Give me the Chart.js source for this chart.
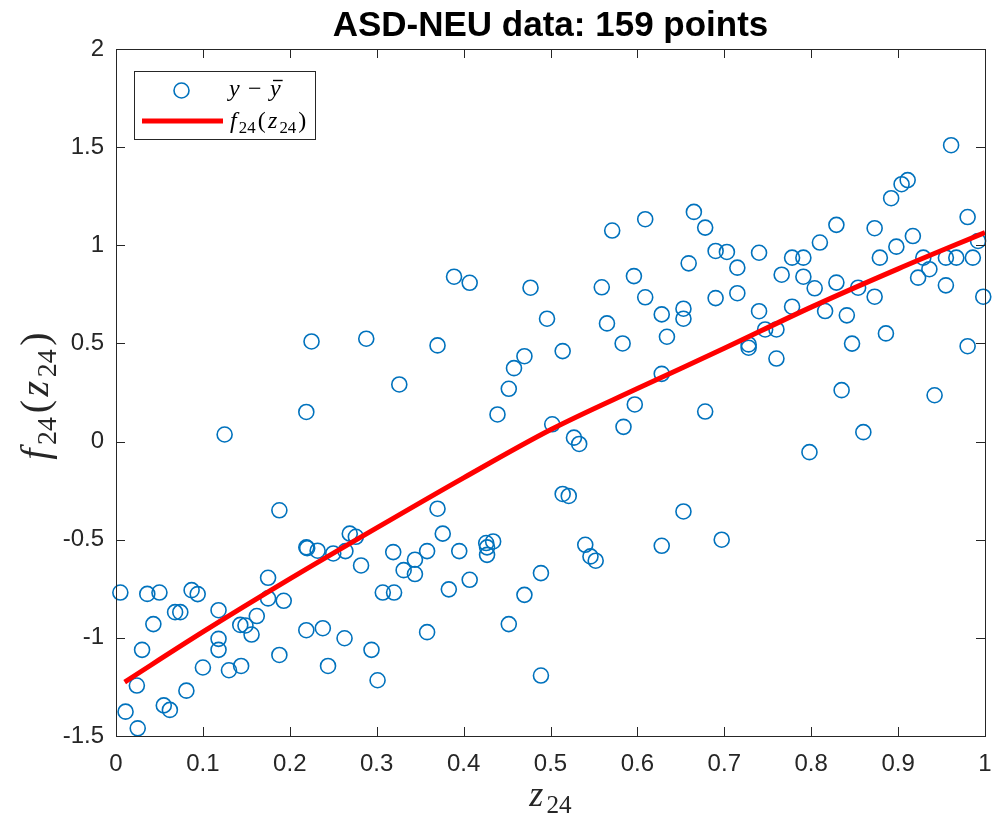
<!DOCTYPE html>
<html>
<head>
<meta charset="utf-8">
<title>ASD-NEU data</title>
<script src="https://cdn.jsdelivr.net/npm/chart.js@4.4.1/dist/chart.umd.min.js"></script>
<style>
  body { margin: 0; background: #fff; }
  #wrap { width: 1000px; height: 820px; }
</style>
</head>
<body>
<div id="wrap"><canvas id="c" width="1000" height="820"></canvas></div>
<script>
// ===== Data =====
const zVals = [
  0.326, 0.219, 0.125, 0.188, 0.219, 0.220, 0.232, 0.250, 0.264, 0.269,
  0.276, 0.282, 0.319, 0.331, 0.307, 0.320, 0.005, 0.036, 0.050, 0.087,
  0.094, 0.068, 0.074, 0.118, 0.043, 0.030, 0.118, 0.118, 0.143, 0.149,
  0.156, 0.162, 0.175, 0.175, 0.193, 0.188, 0.100, 0.130, 0.144, 0.081,
  0.024, 0.011, 0.055, 0.062, 0.025, 0.219, 0.238, 0.263, 0.244, 0.294,
  0.301, 0.225, 0.288,
  0.452, 0.439, 0.502, 0.527, 0.533, 0.584, 0.597, 0.514, 0.521, 0.370,
  0.376, 0.344, 0.344, 0.358, 0.383, 0.358, 0.395, 0.407, 0.426, 0.427,
  0.427, 0.434, 0.452, 0.470, 0.489, 0.489, 0.540, 0.546, 0.552, 0.628,
  0.653,
  0.678, 0.697, 0.798, 0.835, 0.860, 0.942,
  0.370, 0.389, 0.407, 0.458, 0.470, 0.477, 0.496, 0.514, 0.559, 0.565,
  0.571, 0.583, 0.596, 0.609, 0.609, 0.628, 0.634, 0.628, 0.653, 0.653,
  0.659, 0.665,
  0.678, 0.690, 0.703, 0.715, 0.740, 0.690, 0.715, 0.740, 0.728, 0.728,
  0.747, 0.760, 0.760, 0.766, 0.778, 0.778, 0.791, 0.791, 0.804, 0.810,
  0.816, 0.829, 0.829, 0.841, 0.847, 0.854, 0.873, 0.873, 0.879, 0.886,
  0.892, 0.898, 0.904, 0.911, 0.917, 0.923, 0.929, 0.936, 0.955, 0.955,
  0.961, 0.967, 0.980, 0.986, 0.992, 0.980, 0.998
];
const yVals = [
  0.291, 0.151, 0.036, -0.350, -0.539, -0.543, -0.556, -0.570, -0.558, -0.469,
  -0.485, -0.631, -0.563, -0.655, -0.769, -0.769, -0.769, -0.776, -0.769, -0.757,
  -0.777, -0.869, -0.869, -0.859, -0.930, -1.061, -1.005, -1.061, -0.934, -0.937,
  -0.983, -0.889, -0.694, -0.799, -0.811, -1.087, -1.151, -1.165, -1.143, -1.269,
  -1.243, -1.376, -1.344, -1.367, -1.461, -0.961, -0.951, -1.002, -1.143, -1.061,
  -1.216, 0.510, 0.524,
  0.269, 0.138, 0.088, 0.020, -0.012, 0.075, 0.189, -0.267, -0.277, -0.342,
  -0.469, -0.602, -0.675, -0.558, -0.753, -0.971, -0.558, -0.704, -0.517, -0.539,
  -0.577, -0.509, -0.930, -0.781, -0.670, -1.192, -0.526, -0.585, -0.607, -0.531,
  -0.356,
  0.153, -0.500, -0.054, 0.262, 0.048, 0.236,
  0.490, 0.840, 0.809, 0.374, 0.435, 0.784, 0.626, 0.461, 0.786, 0.602,
  1.075, 0.500, 0.843, 1.133, 0.735, 0.648, 0.534, 0.345, 0.677, 0.626,
  0.908, 1.170,
  1.090, 0.971, 0.966, 0.886, 0.962, 0.731, 0.756, 0.664, 0.495, 0.478,
  0.571, 0.571, 0.423, 0.850, 0.687, 0.937, 0.937, 0.840, 0.781, 1.014,
  0.665, 1.104, 0.810, 0.643, 0.499, 0.784, 1.087, 0.738, 0.937, 0.551,
  1.240, 0.993, 1.311, 1.332, 1.047, 0.835, 0.937, 0.878, 0.937, 0.796,
  1.510, 0.937, 1.144, 0.937, 1.022, 0.486, 0.738
];

// fitted curve f24(z24)
const fitZ = [0.01, 0.1, 0.2, 0.3, 0.4, 0.5, 0.6, 0.7, 0.8, 0.9, 1.0];
const fitF = [-1.225, -0.97, -0.70, -0.44, -0.185, 0.06, 0.27, 0.475, 0.685, 0.88, 1.065];

const xTicks = [0, 0.1, 0.2, 0.3, 0.4, 0.5, 0.6, 0.7, 0.8, 0.9, 1];
const yTicks = [-1.5, -1, -0.5, 0, 0.5, 1, 1.5, 2];

// ===== Styles =====
const BLUE = "#0072BD";
const RED = "#FF0000";
const AXIS = "#262626";
const SANS = '"Liberation Sans", Arial, Helvetica, sans-serif';
const SERIF = '"Liberation Serif", "Times New Roman", serif';

// ===== Math text helper (italic letters, roman subscripts) =====
function partFont(s, size) {
  const fs = s === "s" ? size * 0.7 : size;
  return (s === "i" ? "italic " : "") + fs + "px " + SERIF;
}

function mathWidth(ctx, parts, size) {
  let w = 0;
  parts.forEach(([t, s]) => {
    ctx.font = partFont(s, size);
    w += ctx.measureText(t).width + size * 0.09;
  });
  return w - size * 0.09;
}

function drawMath(ctx, parts, x, y, size) {
  let cx = x;
  parts.forEach(([t, s]) => {
    ctx.font = partFont(s, size);
    const dy = s === "s" ? size * 0.2 : 0;
    ctx.fillText(t, cx, y + dy);
    cx += ctx.measureText(t).width + size * 0.09;
  });
}

const fLabel = [["f", "i"], ["24", "s"], ["(", "r"], ["z", "i"], ["24", "s"], [")", "r"]];
const zLabel = [["z", "i"], ["24", "s"]];

// ===== Frame, titles, legend =====
const framePlugin = {
  id: "frame",
  afterDraw(chart) {
    const ctx = chart.ctx;
    const a = chart.chartArea;
    const xs = chart.scales.x;
    const ys = chart.scales.y;

    ctx.save();
    // box + inward ticks on all four sides
    ctx.strokeStyle = AXIS;
    ctx.lineWidth = 1;
    ctx.strokeRect(a.left + 0.5, a.top + 0.5, a.right - a.left, a.bottom - a.top);
    ctx.beginPath();
    xTicks.forEach(v => {
      const px = Math.round(xs.getPixelForValue(v)) + 0.5;
      ctx.moveTo(px, a.bottom); ctx.lineTo(px, a.bottom - 9);
      ctx.moveTo(px, a.top); ctx.lineTo(px, a.top + 9);
    });
    yTicks.forEach(v => {
      const py = Math.round(ys.getPixelForValue(v)) + 0.5;
      ctx.moveTo(a.left, py); ctx.lineTo(a.left + 9, py);
      ctx.moveTo(a.right, py); ctx.lineTo(a.right - 9, py);
    });
    ctx.stroke();

    // title
    ctx.fillStyle = "#000";
    ctx.font = "bold 35px " + SANS;
    ctx.textAlign = "center";
    ctx.textBaseline = "alphabetic";
    ctx.fillText("ASD-NEU data: 159 points", (a.left + a.right) / 2, 36);

    // axis labels
    ctx.textAlign = "left";
    ctx.fillStyle = AXIS;
    const xw = mathWidth(ctx, zLabel, 36);
    drawMath(ctx, zLabel, (a.left + a.right) / 2 - xw / 2, 806, 36);

    ctx.save();
    ctx.translate(48, 396);
    ctx.rotate(-Math.PI / 2);
    const yw = mathWidth(ctx, fLabel, 40);
    drawMath(ctx, fLabel, -yw / 2, 0, 40);
    ctx.restore();

    // legend
    const lx = 134.5, ly = 71.5, lw = 181, lh = 68;
    ctx.fillStyle = "#fff";
    ctx.fillRect(lx, ly, lw, lh);
    ctx.strokeStyle = AXIS;
    ctx.lineWidth = 1;
    ctx.strokeRect(lx, ly, lw, lh);

    ctx.strokeStyle = BLUE;
    ctx.lineWidth = 1.6;
    ctx.beginPath();
    ctx.arc(181.5, 90.5, 7.5, 0, Math.PI * 2);
    ctx.stroke();

    ctx.strokeStyle = RED;
    ctx.lineWidth = 5;
    ctx.beginPath();
    ctx.moveTo(142, 121); ctx.lineTo(223, 121);
    ctx.stroke();

    // y - ybar
    ctx.fillStyle = "#000";
    ctx.font = partFont("i", 24);
    ctx.fillText("y", 229, 96);
    ctx.font = partFont("r", 24);
    ctx.fillText("\u2212", 248, 96);
    ctx.font = partFont("i", 24);
    ctx.fillText("y", 270, 96);
    const yw2 = ctx.measureText("y").width;
    ctx.strokeStyle = "#000";
    ctx.lineWidth = 1.4;
    ctx.beginPath();
    ctx.moveTo(273, 80.5); ctx.lineTo(270 + yw2 + 2, 80.5);
    ctx.stroke();
    drawMath(ctx, fLabel, 230, 128, 24);
    ctx.restore();
  }
};

// ===== Chart =====
const ctx = document.getElementById("c").getContext("2d");

new Chart(ctx, {
  type: "scatter",
  data: {
    datasets: [
      {
        type: "line",
        label: "f24(z24)",
        data: fitZ.map((z, i) => ({ x: z, y: fitF[i] })),
        borderColor: RED,
        borderWidth: 5,
        pointRadius: 0,
        fill: false,
        cubicInterpolationMode: "monotone",
        order: 0
      },
      {
        label: "y - ybar",
        data: zVals.map((z, i) => ({ x: z, y: yVals[i] })),
        pointStyle: "circle",
        pointRadius: 7.5,
        pointBorderWidth: 1.6,
        borderColor: BLUE,
        backgroundColor: "rgba(0,0,0,0)",
        clip: false,
        order: 1
      }
    ]
  },
  options: {
    responsive: false,
    devicePixelRatio: 1,
    animation: false,
    layout: { padding: { left: 0, right: 15, top: 49, bottom: 0 } },
    plugins: {
      legend: { display: false },
      tooltip: { enabled: false },
      title: { display: false }
    },
    scales: {
      x: {
        type: "linear",
        min: 0,
        max: 1,
        afterBuildTicks: s => { s.ticks = xTicks.map(v => ({ value: v })); },
        afterFit: s => {
          s.height = 84;
          s.paddingLeft = 0;   // keep plot edges fixed
          s.paddingRight = 0;
        },
        grid: { display: false, drawTicks: false },
        border: { display: false },
        ticks: {
          padding: 14,
          color: AXIS,
          font: { family: SANS, size: 24 },
          callback: v => String(parseFloat(v.toFixed(1)))
        }
      },
      y: {
        type: "linear",
        min: -1.5,
        max: 2,
        afterBuildTicks: s => { s.ticks = yTicks.map(v => ({ value: v })); },
        afterFit: s => {
          s.width = 116;
          s.paddingTop = 0;
          s.paddingBottom = 0;
        },
        grid: { display: false, drawTicks: false },
        border: { display: false },
        ticks: {
          padding: 12,
          color: AXIS,
          font: { family: SANS, size: 24 },
          callback: v => String(parseFloat(v.toFixed(1)))
        }
      }
    }
  },
  plugins: [framePlugin]
});
</script>
</body>
</html>
